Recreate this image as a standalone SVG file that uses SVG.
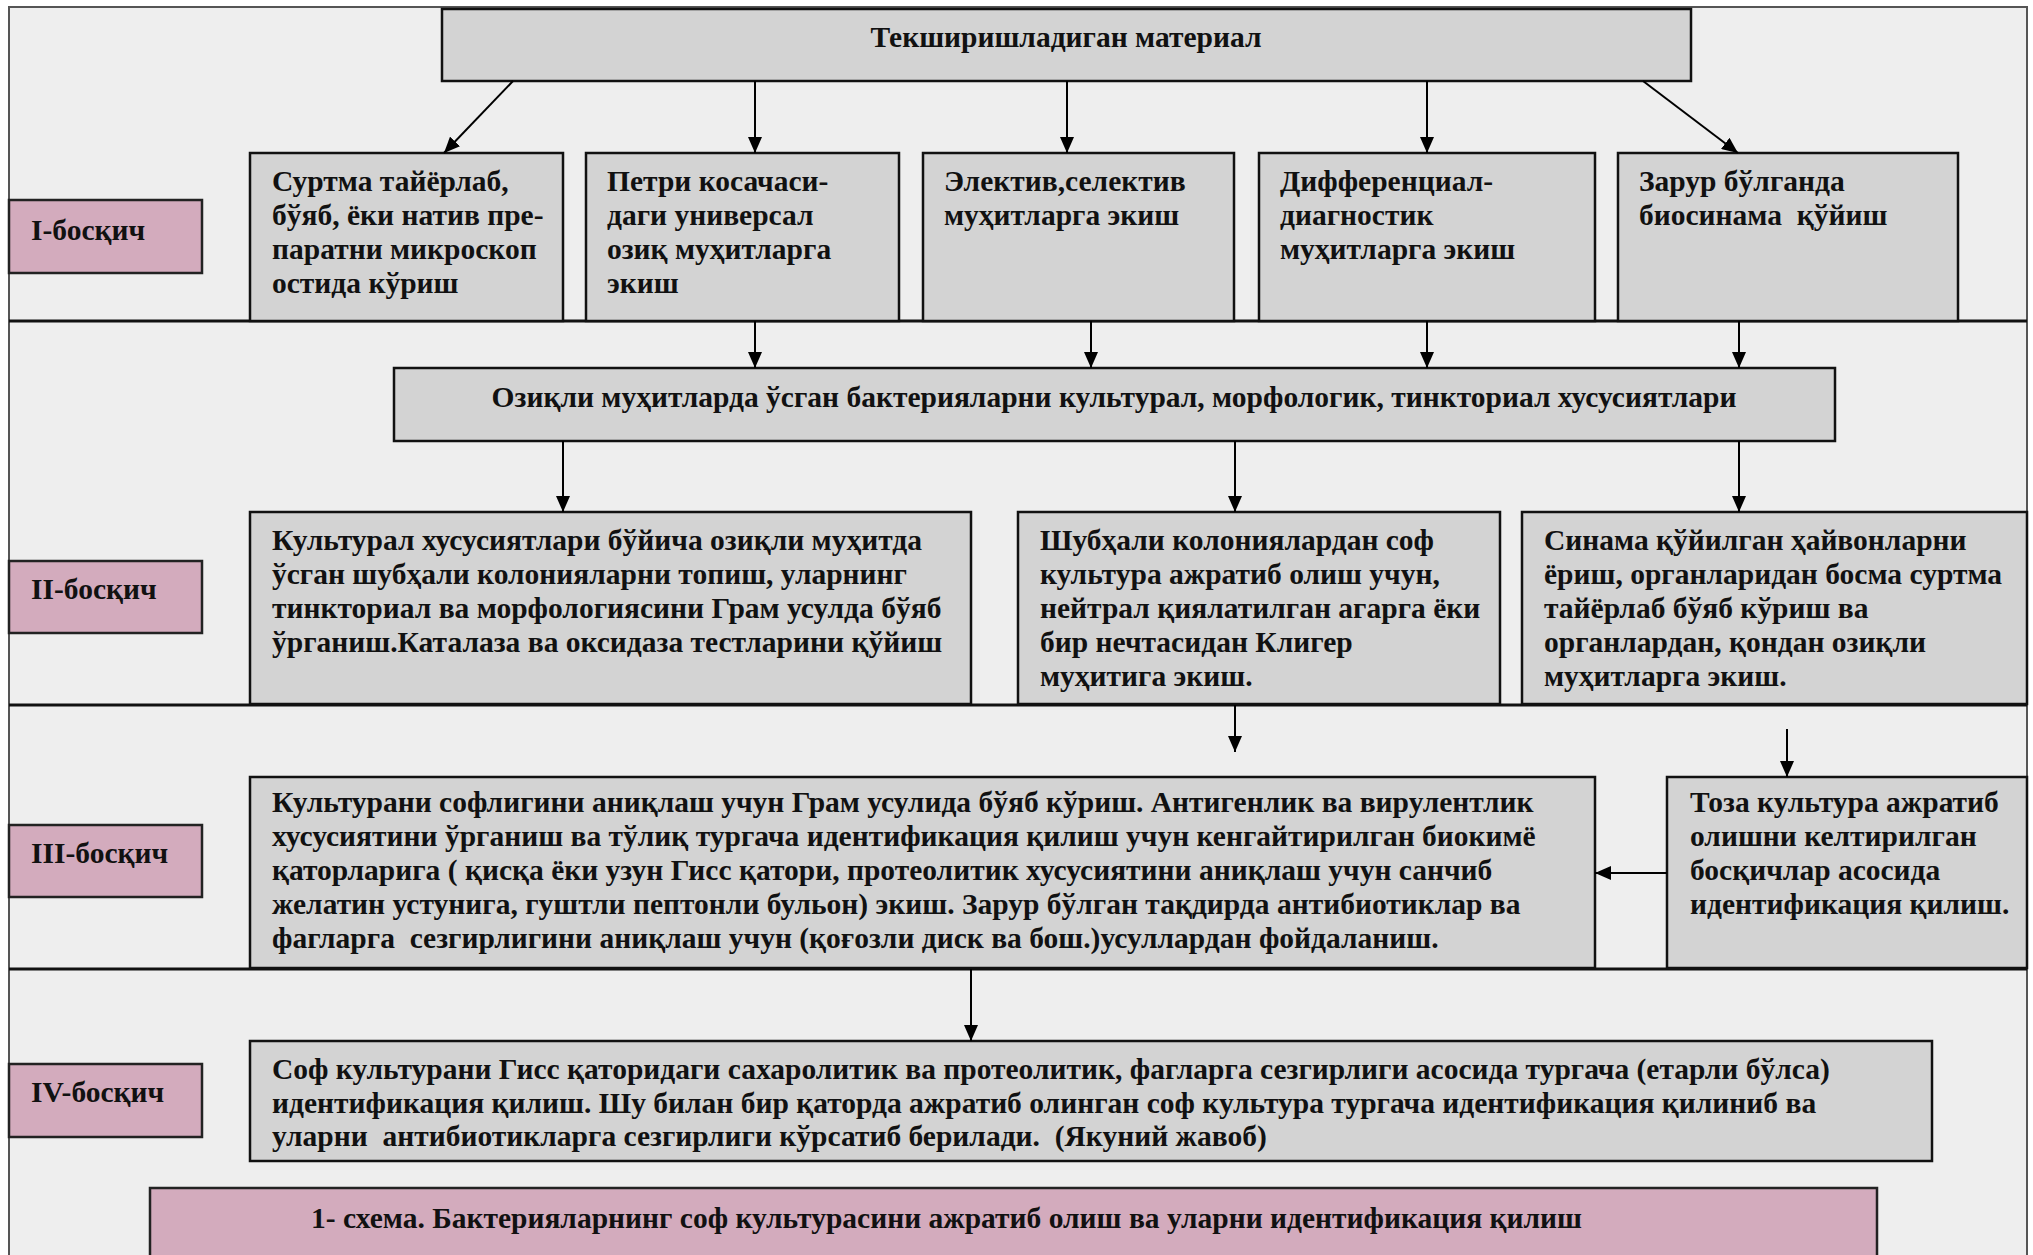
<svg xmlns="http://www.w3.org/2000/svg" width="2033" height="1255" viewBox="0 0 2033 1255">
<defs>
<style>
.frame{fill:#eeeeee;stroke:#555;stroke-width:2}
.box{fill:#d3d3d3;stroke:#111;stroke-width:2.5}
.lbl{fill:#d3abbd;stroke:#222;stroke-width:2.5}
.sep{stroke:#111;stroke-width:3}
.t{font-family:"Liberation Serif","Times New Roman",serif;font-weight:bold;font-size:29.5px;fill:#111;white-space:pre}
.c{text-anchor:middle}
.con line{stroke:#000;stroke-width:2;fill:none}
</style>
<marker id="ah" markerUnits="userSpaceOnUse" markerWidth="16" markerHeight="14" refX="16" refY="7" orient="auto">
<path d="M0,0 L16,7 L0,14 Z" fill="#000"/>
</marker>
</defs>
<rect x="0" y="0" width="2033" height="1255" fill="#ffffff"/>
<rect class="frame" x="9" y="7" width="2018" height="1262"/>
<line class="sep" x1="9" y1="321" x2="2027" y2="321"/>
<line class="sep" x1="9" y1="705" x2="2027" y2="705"/>
<line class="sep" x1="9" y1="969" x2="2027" y2="969"/>

<g id="top">
<rect class="box" x="442" y="9" width="1249" height="72"/>
<text class="t c" x="1066" y="47">Текширишладиган материал</text>
</g>

<g id="stage1">
<rect class="lbl" x="9" y="200" width="193" height="73"/>
<text class="t" x="31" y="240">I-босқич</text>
</g>
<g id="n1">
<rect class="box" x="250" y="153" width="313" height="168"/>
<text class="t" x="272" y="191">Суртма тайёрлаб,</text>
<text class="t" x="272" y="225">бўяб, ёки натив пре-</text>
<text class="t" x="272" y="259">паратни микроскоп</text>
<text class="t" x="272" y="293">остида кўриш</text>
</g>
<g id="n2">
<rect class="box" x="586" y="153" width="313" height="168"/>
<text class="t" x="607" y="191">Петри косачаси-</text>
<text class="t" x="607" y="225">даги универсал</text>
<text class="t" x="607" y="259">озиқ муҳитларга</text>
<text class="t" x="607" y="293">экиш</text>
</g>
<g id="n3">
<rect class="box" x="923" y="153" width="311" height="168"/>
<text class="t" x="944" y="191">Электив,селектив</text>
<text class="t" x="944" y="225">муҳитларга экиш</text>
</g>
<g id="n4">
<rect class="box" x="1259" y="153" width="336" height="168"/>
<text class="t" x="1280" y="191">Дифференциал-</text>
<text class="t" x="1280" y="225">диагностик</text>
<text class="t" x="1280" y="259">муҳитларга экиш</text>
</g>
<g id="n5">
<rect class="box" x="1618" y="153" width="340" height="168"/>
<text class="t" x="1639" y="191">Зарур бўлганда</text>
<text class="t" x="1639" y="225">биосинама  қўйиш</text>
</g>

<g id="wide">
<rect class="box" x="394" y="368" width="1441" height="73"/>
<text class="t c" x="1114" y="407">Озиқли муҳитларда ўсган бактерияларни культурал, морфологик, тинкториал хусусиятлари</text>
</g>

<g id="stage2">
<rect class="lbl" x="9" y="561" width="193" height="72"/>
<text class="t" x="31" y="599">II-босқич</text>
</g>
<g id="nA">
<rect class="box" x="250" y="512" width="721" height="192"/>
<text class="t" x="272" y="550">Культурал хусусиятлари бўйича озиқли муҳитда</text>
<text class="t" x="272" y="584">ўсган шубҳали колонияларни топиш, уларнинг</text>
<text class="t" x="272" y="618">тинкториал ва морфологиясини Грам усулда бўяб</text>
<text class="t" x="272" y="652">ўрганиш.Каталаза ва оксидаза тестларини қўйиш</text>
</g>
<g id="nB">
<rect class="box" x="1018" y="512" width="482" height="192"/>
<text class="t" x="1040" y="550">Шубҳали колониялардан соф</text>
<text class="t" x="1040" y="584">культура ажратиб олиш учун,</text>
<text class="t" x="1040" y="618">нейтрал қиялатилган агарга ёки</text>
<text class="t" x="1040" y="652">бир нечтасидан Клигер</text>
<text class="t" x="1040" y="686">муҳитига экиш.</text>
</g>
<g id="nC">
<rect class="box" x="1522" y="512" width="505" height="192"/>
<text class="t" x="1544" y="550">Синама қўйилган ҳайвонларни</text>
<text class="t" x="1544" y="584">ёриш, органларидан босма суртма</text>
<text class="t" x="1544" y="618">тайёрлаб бўяб кўриш ва</text>
<text class="t" x="1544" y="652">органлардан, қондан озиқли</text>
<text class="t" x="1544" y="686">муҳитларга экиш.</text>
</g>

<g id="stage3">
<rect class="lbl" x="9" y="825" width="193" height="72"/>
<text class="t" x="31" y="863">III-босқич</text>
</g>
<g id="nD">
<rect class="box" x="250" y="777" width="1345" height="191"/>
<text class="t" x="272" y="812">Культурани софлигини аниқлаш учун Грам усулида бўяб кўриш. Антигенлик ва вирулентлик</text>
<text class="t" x="272" y="846">хусусиятини ўрганиш ва тўлиқ тургача идентификация қилиш учун кенгайтирилган биокимё</text>
<text class="t" x="272" y="880">қаторларига ( қисқа ёки узун Гисс қатори, протеолитик хусусиятини аниқлаш учун санчиб</text>
<text class="t" x="272" y="914">желатин устунига, гуштли пептонли бульон) экиш. Зарур бўлган тақдирда антибиотиклар ва</text>
<text class="t" x="272" y="948">фагларга  сезгирлигини аниқлаш учун (қоғозли диск ва бош.)усуллардан фойдаланиш.</text>
</g>
<g id="nE">
<rect class="box" x="1667" y="777" width="360" height="191"/>
<text class="t" x="1690" y="812">Тоза культура ажратиб</text>
<text class="t" x="1690" y="846">олишни келтирилган</text>
<text class="t" x="1690" y="880">босқичлар асосида</text>
<text class="t" x="1690" y="914">идентификация қилиш.</text>
</g>

<g id="stage4">
<rect class="lbl" x="9" y="1064" width="193" height="73"/>
<text class="t" x="31" y="1102">IV-босқич</text>
</g>
<g id="nF">
<rect class="box" x="250" y="1041" width="1682" height="120"/>
<text class="t" x="272" y="1079">Соф культурани Гисс қаторидаги сахаролитик ва протеолитик, фагларга сезгирлиги асосида тургача (етарли бўлса)</text>
<text class="t" x="272" y="1113">идентификация қилиш. Шу билан бир қаторда ажратиб олинган соф культура тургача идентификация қилиниб ва</text>
<text class="t" x="272" y="1146">уларни  антибиотикларга сезгирлиги кўрсатиб берилади.  (Якуний жавоб)</text>
</g>

<g id="caption">
<rect class="lbl" x="150" y="1188" width="1727" height="80"/>
<text class="t" x="311" y="1228">1- схема. Бактерияларнинг соф культурасини ажратиб олиш ва уларни идентификация қилиш</text>
</g>

<g id="connectors" class="con">
<line x1="513" y1="81" x2="444" y2="153" marker-end="url(#ah)"/>
<line x1="755" y1="81" x2="755" y2="153" marker-end="url(#ah)"/>
<line x1="1067" y1="81" x2="1067" y2="153" marker-end="url(#ah)"/>
<line x1="1427" y1="81" x2="1427" y2="153" marker-end="url(#ah)"/>
<line x1="1643" y1="81" x2="1738" y2="153" marker-end="url(#ah)"/>
<line x1="755" y1="321" x2="755" y2="368" marker-end="url(#ah)"/>
<line x1="1091" y1="321" x2="1091" y2="368" marker-end="url(#ah)"/>
<line x1="1427" y1="321" x2="1427" y2="368" marker-end="url(#ah)"/>
<line x1="1739" y1="321" x2="1739" y2="368" marker-end="url(#ah)"/>
<line x1="563" y1="441" x2="563" y2="512" marker-end="url(#ah)"/>
<line x1="1235" y1="441" x2="1235" y2="512" marker-end="url(#ah)"/>
<line x1="1739" y1="441" x2="1739" y2="512" marker-end="url(#ah)"/>
<line x1="1235" y1="705" x2="1235" y2="752" marker-end="url(#ah)"/>
<line x1="1787" y1="729" x2="1787" y2="777" marker-end="url(#ah)"/>
<line x1="1667" y1="873" x2="1595" y2="873" stroke-width="3" marker-end="url(#ah)"/>
<line x1="971" y1="969" x2="971" y2="1041" marker-end="url(#ah)"/>
</g>
</svg>
